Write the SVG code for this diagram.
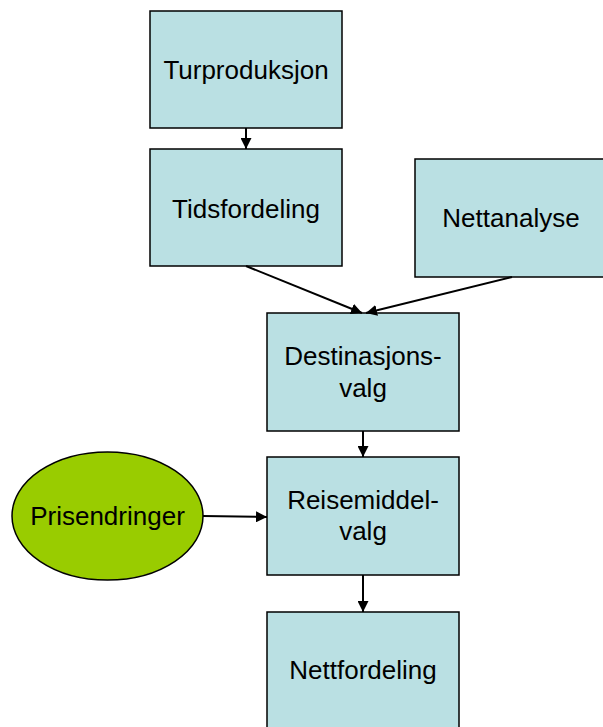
<svg xmlns="http://www.w3.org/2000/svg" width="603" height="727" viewBox="0 0 603 727">
<style>
.box{fill:#BAE0E3;stroke:#000;stroke-width:1.5}
.ell{fill:#99CC00;stroke:#000;stroke-width:1.5}
.t{font-family:"Liberation Sans",Arial,sans-serif;font-size:26px;fill:#000;text-anchor:middle}
.c{stroke:#000;stroke-width:2;fill:none;marker-end:url(#ah)}
</style>
<defs>
<marker id="ah" viewBox="0 0 10 10" refX="10" refY="5" markerWidth="5.5" markerHeight="5.5" orient="auto" markerUnits="strokeWidth">
<path d="M0,0 L10,5 L0,10 z" fill="#000"/>
</marker>
</defs>
<g id="turproduksjon"><rect class="box" x="150" y="11" width="192" height="117"/><text class="t" x="246" y="79">Turproduksjon</text></g>
<g id="tidsfordeling"><rect class="box" x="150" y="149" width="192" height="117"/><text class="t" x="246" y="218">Tidsfordeling</text></g>
<g id="nettanalyse"><rect class="box" x="415" y="159" width="192" height="118"/><text class="t" x="511" y="227">Nettanalyse</text></g>
<g id="destinasjonsvalg"><rect class="box" x="267" y="313" width="192" height="118"/><text class="t" x="363" y="365">Destinasjons-</text><text class="t" x="363" y="397">valg</text></g>
<g id="reisemiddelvalg"><rect class="box" x="267" y="457" width="192" height="118"/><text class="t" x="363" y="509">Reisemiddel-</text><text class="t" x="363" y="540">valg</text></g>
<g id="nettfordeling"><rect class="box" x="267" y="612" width="192" height="130"/><text class="t" x="363" y="679">Nettfordeling</text></g>
<g id="prisendringer"><ellipse class="ell" cx="107.5" cy="516" rx="95.5" ry="64"/><text class="t" x="107.5" y="525">Prisendringer</text></g>
<g id="connectors">
<line class="c" x1="246" y1="128" x2="246" y2="149"/>
<line class="c" x1="246" y1="266" x2="362" y2="313"/>
<line class="c" x1="512" y1="277" x2="366" y2="313"/>
<line class="c" x1="363" y1="431" x2="363" y2="457"/>
<line class="c" x1="363" y1="575" x2="363" y2="612"/>
<line class="c" x1="203" y1="516" x2="267" y2="517"/>
</g>
</svg>
